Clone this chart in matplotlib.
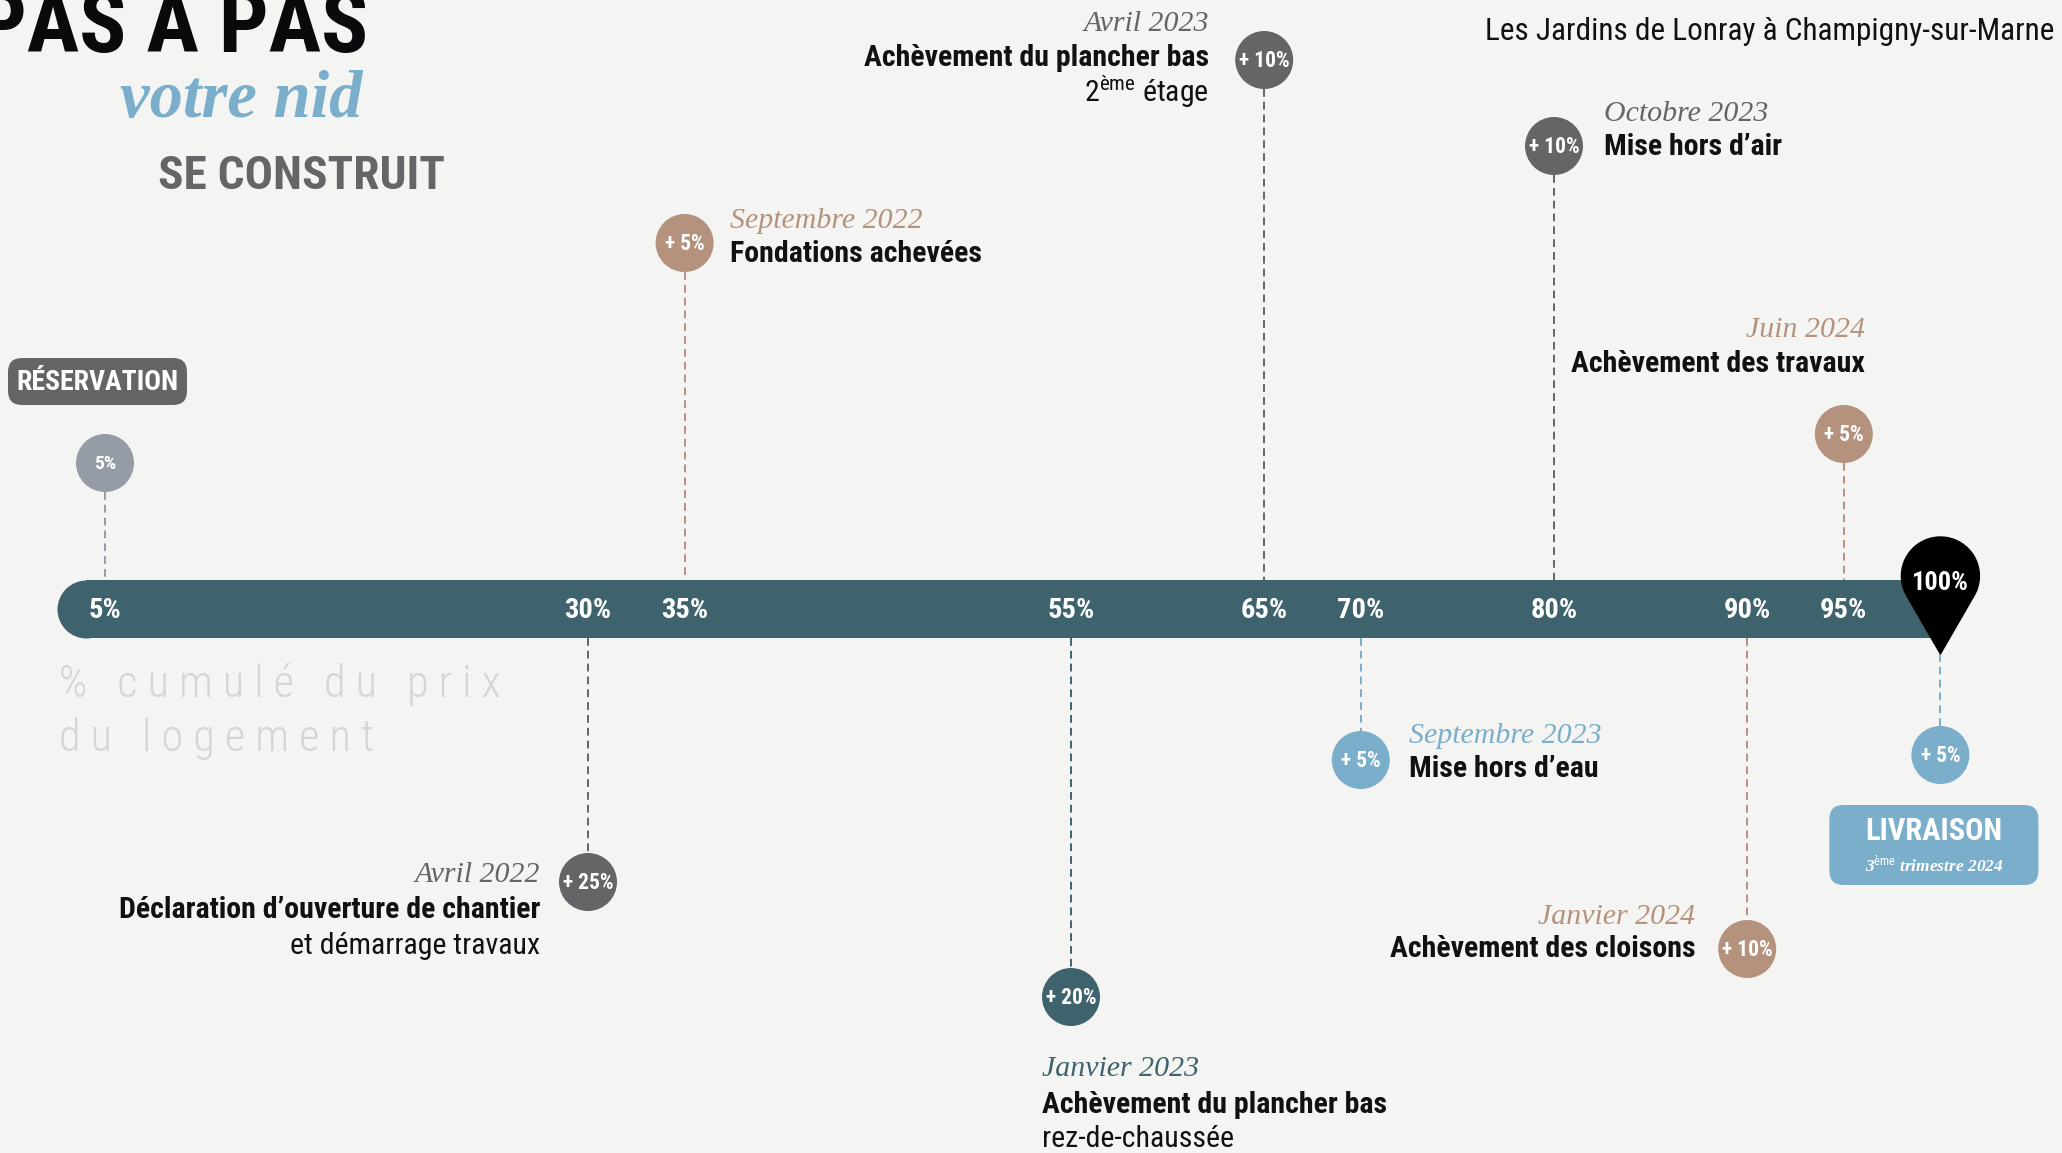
import numpy as np
import matplotlib
matplotlib.use("Agg")
import matplotlib.pyplot as plt
import matplotlib.transforms as mtransforms
from matplotlib import font_manager
from matplotlib.patches import FancyBboxPatch, Polygon

W, H, DPI = 2062, 1153, 100

# cumulative share of the price paid at each milestone, and the step paid
cumul = [5, 30, 35, 55, 65, 70, 80, 90, 95, 100]
steps = [5, 25, 5, 20, 10, 5, 10, 10, 5, 5]
dates = ["", "Avril 2022", "Septembre 2022", "Janvier 2023", "Avril 2023",
         "Septembre 2023", "Octobre 2023", "Janvier 2024", "Juin 2024", ""]
titles = ["RÉSERVATION", "Déclaration d’ouverture de chantier", "Fondations achevées",
          "Achèvement du plancher bas", "Achèvement du plancher bas", "Mise hors d’eau",
          "Mise hors d’air", "Achèvement des cloisons", "Achèvement des travaux", "LIVRAISON"]
subtitles = ["", "et démarrage travaux", "", "rez-de-chaussée", r"2$^{\mathrm{ème}}$ étage",
             "", "", "", "", ""]
delivery = r"3$^{\mathrm{ème}}$ trimestre 2024"
project = "Les Jardins de Lonray à Champigny-sur-Marne"
axis_note = ["%   c u m u l é   d u   p r i x", "d u   l o g e m e n t"]

# colours
BG = "#f4f4f2"
TEAL = "#3f636c"
GREY = "#636566"
BLUE = "#7aaecb"
TAN = "#b5927e"
SLATE = "#959ca6"
INK = "#111111"
point_colors = [SLATE, GREY, TAN, TEAL, GREY, BLUE, GREY, TAN, TAN, BLUE]

# layout (pixels from the top / pixel offsets from the milestone)
BAR_Y, BAR_H, R = 609, 58, 29
circle_y = [463, 882, 243, 997, 60, 760, 146, 949, 434, 755]
text_dx = [0, -48, 45, -29, -55, 48, 50, -52, 21, 0]
text_ha = [None, "right", "left", "left", "right", "left", "left", "right", "right", None]
date_y = [0, 875, 221, 1069, 24, 736, 114, 917, 330, 0]
title_y = [0, 910, 254, 1105, 58, 769, 147, 949, 364, 0]
sub_y = [0, 946, 0, 1139, 92, 0, 0, 0, 0, 0]

# fonts: the original uses a condensed grotesque and a brush script
names = {f.name for f in font_manager.fontManager.ttflist}
COND, STRETCH, SCALE = "Roboto", "normal", 0.82
for cand in ["Roboto Condensed", "Liberation Sans Narrow", "DejaVu Sans Condensed"]:
    if cand in names:
        COND, STRETCH, SCALE = cand, "normal", 1.0
        break
else:
    if any(f.name == "DejaVu Sans" and str(f.stretch) == "condensed"
           for f in font_manager.fontManager.ttflist):
        COND, STRETCH, SCALE = "DejaVu Sans", "condensed", 0.88
SCRIPT = "Liberation Serif" if "Liberation Serif" in names else "DejaVu Serif"

plt.rcParams["mathtext.fontset"] = "custom"
plt.rcParams["mathtext.rm"] = COND
plt.rcParams["mathtext.it"] = COND


def cf(size, weight="normal"):
    return dict(family=COND, fontsize=size * SCALE, fontweight=weight, fontstretch=STRETCH)


def sf(size, weight="normal"):
    return dict(family=SCRIPT, fontsize=size, fontstyle="italic", fontweight=weight)


fig = plt.figure(figsize=(W / DPI, H / DPI), dpi=DPI, facecolor=BG)
ax = fig.add_axes([0, 0, 1, 1])
ax.set_facecolor(BG)
# percent axis: roughly 19.3 px per point of percentage
ax.set_xlim((0 - 8.4) / 19.32, (W - 8.4) / 19.32)
ax.set_ylim(H, 0)
ax.axis("off")

PX = mtransforms.Affine2D().scale(1, -1).translate(0, H)


def at(pct):
    """x as pixel offset from a milestone, y in pixels from the top"""
    return mtransforms.Affine2D().scale(1, -1) + mtransforms.ScaledTranslation(pct, 0, ax.transData)


# header
fig.text(368, 52, "PAS À PAS", transform=PX, ha="right", va="baseline",
         color="#0a0a0c", **cf(63, "bold"))
fig.text(362, 100, "votre nid", transform=PX, ha="right", va="center",
         color=BLUE, **sf(48, "bold"))
fig.text(445, 176, "SE CONSTRUIT", transform=PX, ha="right", va="center",
         color=GREY, **cf(34, "bold"))
fig.text(2054, 32, project, transform=PX, ha="right", va="center", color=INK, **cf(22.5))
for k, line in enumerate(axis_note):
    fig.text(59, 685 + 54 * k, line, transform=PX, ha="left", va="center",
             color="#d5d5d3", **cf(32, "light"))

# the progress bar
lw_bar = BAR_H * 72 / DPI
ax.plot([4, cumul[-1]], [BAR_Y, BAR_Y], color=TEAL, lw=lw_bar, solid_capstyle="butt", zorder=1)
ax.scatter([4], [BAR_Y], s=lw_bar ** 2, color=TEAL, linewidths=0, zorder=1)

# connectors
for i, pct in enumerate(cumul):
    cy = circle_y[i]
    if i == len(cumul) - 1:
        y0, y1 = 654, cy - R
    elif cy < BAR_Y:
        y0, y1 = cy + R, BAR_Y - BAR_H / 2
    else:
        y0, y1 = BAR_Y + BAR_H / 2, cy - R
    ax.vlines(pct, y0, y1, colors=point_colors[i], linewidth=1.4,
              linestyles=(0, (4, 2.6)), zorder=0)

# step circles
d_pt = 2 * R * 72 / DPI
ax.scatter(cumul, circle_y, s=d_pt ** 2, c=point_colors, linewidths=0, zorder=3)
for i, pct in enumerate(cumul):
    lab = f"{steps[i]}%" if i == 0 else f"+ {steps[i]}%"
    ax.text(pct, circle_y[i] + 1, lab, ha="center", va="center", color="white",
            zorder=4, **cf(15.5 if i else 14, "bold"))

# percentages on the bar
for pct in cumul[:-1]:
    ax.text(pct, BAR_Y + 1, f"{pct}%", ha="center", va="center", color="white",
            zorder=2, **cf(20.5, "bold"))

# map pin for 100 %
cy_pin, r_pin, tip = 576, 39, 654
phi = np.radians(np.linspace(-30, 210, 80))
pts = np.column_stack([r_pin * np.cos(phi), cy_pin - r_pin * np.sin(phi)])
pts = np.vstack([pts, [0, tip]])
ax.add_patch(Polygon(pts, closed=True, transform=at(cumul[-1]), color="black", zorder=5))
ax.text(0, 583, f"{cumul[-1]}%", transform=at(cumul[-1]), ha="center", va="center",
        color="white", zorder=6, **cf(19, "bold"))

# milestone texts
for i, pct in enumerate(cumul):
    if text_ha[i] is None:
        continue
    tr = at(pct)
    ax.text(text_dx[i], date_y[i], dates[i], transform=tr, ha=text_ha[i], va="center",
            color=point_colors[i], **sf(21.5))
    ax.text(text_dx[i], title_y[i], titles[i], transform=tr, ha=text_ha[i], va="center",
            color=INK, **cf(21.5, "bold"))
    if subtitles[i]:
        ax.text(text_dx[i], sub_y[i], subtitles[i], transform=tr, ha=text_ha[i], va="center",
                color=INK, **cf(21.5))

# labelled boxes: reservation and delivery
tr = at(cumul[0])
ax.add_patch(FancyBboxPatch((-97, 358), 179, 47, boxstyle="round,pad=0,rounding_size=14",
                            transform=tr, color=GREY, linewidth=0, zorder=3))
ax.text(-7.5, 382, titles[0], transform=tr, ha="center", va="center", color="white",
        zorder=4, **cf(20, "bold"))

tr = at(cumul[-1])
ax.add_patch(FancyBboxPatch((-111, 805), 209, 80, boxstyle="round,pad=0,rounding_size=14",
                            transform=tr, color=BLUE, linewidth=0, zorder=3))
ax.text(-6.5, 831, titles[-1], transform=tr, ha="center", va="center", color="white",
        zorder=4, **cf(22, "bold"))
ax.text(-6.5, 864, delivery, transform=tr, ha="center", va="center", color="white",
        zorder=4, **sf(12.5, "bold"))

fig.savefig("out.png", dpi=DPI, facecolor=BG)
